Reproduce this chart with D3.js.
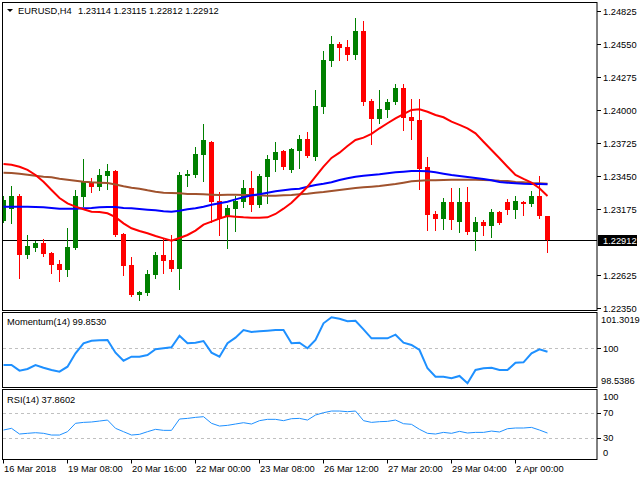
<!DOCTYPE html>
<html><head><meta charset="utf-8">
<script src="https://cdn.jsdelivr.net/npm/d3@7"></script>
<style>
body{margin:0;background:#fff}
svg{display:block}
text{font-family:"Liberation Sans",Arial,sans-serif;font-size:9.3px;fill:#000}
</style>
</head><body>
<svg id="c" width="640" height="480"></svg>
<script>
// ---------- DATA ----------
const symbol = "EURUSD,H4";
const opens = [1.23073,1.23175,1.23281,1.22792,1.22848,1.22889,1.22806,1.22714,1.22667,1.22850,
 1.23275,1.23398,1.23358,1.23448,1.23489,1.22964,1.22706,1.22458,1.22473,1.22623,
 1.22789,1.22748,1.22673,1.23448,1.23456,1.23623,1.23731,1.23239,1.23114,1.23173,
 1.23231,1.23348,1.23206,1.23439,1.23581,1.23656,1.23498,1.23656,1.23756,1.23606,
 1.24023,1.24406,1.24548,1.24523,1.24456,1.24656,1.24073,1.23923,1.23998,1.24064,
 1.24181,1.23939,1.23914,1.23523,1.23131,1.23089,1.23231,1.23064,1.23231,1.22981,
 1.23064,1.23031,1.23148,1.23231,1.23164,1.23231,1.23214,1.23281,1.23114];
const highs = [1.23281,1.23364,1.23298,1.22956,1.22908,1.22923,1.22814,1.22748,1.23014,1.23328,
 1.23589,1.23431,1.23506,1.23548,1.23498,1.22970,1.22773,1.22489,1.22664,1.22814,
 1.22923,1.22956,1.23481,1.23498,1.23689,1.23881,1.23739,1.23314,1.23206,1.23281,
 1.23414,1.23489,1.23464,1.23623,1.23731,1.23664,1.23681,1.23789,1.23814,1.24164,
 1.24489,1.24614,1.24564,1.24581,1.24764,1.24739,1.24089,1.24164,1.24089,1.24214,
 1.24214,1.24089,1.24089,1.23606,1.23156,1.23264,1.23348,1.23348,1.23356,1.23106,
 1.23081,1.23173,1.23156,1.23256,1.23281,1.23239,1.23323,1.23448,1.23115];
const lows = [1.23064,1.23058,1.22600,1.22767,1.22825,1.22781,1.22642,1.22575,1.22617,1.22843,
 1.23198,1.23314,1.23331,1.23342,1.22950,1.22625,1.22450,1.22417,1.22458,1.22598,
 1.22639,1.22656,1.22506,1.23364,1.23439,1.23406,1.23064,1.22956,1.22848,1.22989,
 1.23189,1.23156,1.23189,1.23223,1.23489,1.23506,1.23481,1.23514,1.23606,1.23581,
 1.23973,1.24364,1.24414,1.24414,1.24423,1.24039,1.23714,1.23889,1.23939,1.24048,
 1.23831,1.23756,1.23339,1.22998,1.22998,1.23006,1.23006,1.22981,1.22964,1.22831,
 1.22956,1.22939,1.23048,1.23131,1.23098,1.23123,1.23198,1.23098,1.22812];
const closes = [1.23248,1.23281,1.22792,1.22864,1.22889,1.22798,1.22708,1.22667,1.22856,1.23281,
 1.23398,1.23358,1.23456,1.23489,1.22958,1.22700,1.22458,1.22481,1.22631,1.22789,
 1.22739,1.22673,1.23456,1.23464,1.23631,1.23748,1.23231,1.23089,1.23181,1.23239,
 1.23348,1.23206,1.23448,1.23589,1.23648,1.23523,1.23673,1.23756,1.23614,1.24031,
 1.24414,1.24548,1.24514,1.24456,1.24656,1.24064,1.23923,1.24006,1.24064,1.24181,
 1.23931,1.23906,1.23506,1.23123,1.23089,1.23231,1.23081,1.23231,1.22981,1.23064,
 1.23031,1.23148,1.23056,1.23164,1.23239,1.23214,1.23281,1.23114,1.22912];
const maRed = [1.23548,1.23542,1.23525,1.23498,1.23456,1.23400,1.23331,1.23264,1.23220,1.23192,
 1.23170,1.23150,1.23148,1.23137,1.23104,1.23053,1.23012,1.22989,1.22970,1.22948,
 1.22928,1.22908,1.22931,1.22956,1.22992,1.23042,1.23067,1.23093,1.23114,1.23108,
 1.23103,1.23100,1.23100,1.23103,1.23131,1.23175,1.23225,1.23289,1.23358,1.23442,
 1.23525,1.23598,1.23642,1.23698,1.23748,1.23767,1.23798,1.23845,1.23887,1.23928,
 1.23964,1.23998,1.24003,1.23983,1.23956,1.23937,1.23900,1.23873,1.23845,1.23803,
 1.23733,1.23664,1.23595,1.23525,1.23456,1.23423,1.23392,1.23345,1.23281];
const maBlue = [1.23192,1.23192,1.23192,1.23192,1.23189,1.23187,1.23181,1.23175,1.23175,1.23175,
 1.23178,1.23181,1.23187,1.23189,1.23189,1.23181,1.23178,1.23173,1.23167,1.23162,
 1.23153,1.23150,1.23158,1.23170,1.23178,1.23192,1.23208,1.23220,1.23233,1.23253,
 1.23270,1.23287,1.23295,1.23308,1.23320,1.23328,1.23337,1.23342,1.23358,1.23373,
 1.23383,1.23395,1.23414,1.23428,1.23442,1.23450,1.23456,1.23462,1.23470,1.23478,
 1.23483,1.23489,1.23489,1.23487,1.23478,1.23467,1.23456,1.23448,1.23439,1.23431,
 1.23423,1.23412,1.23398,1.23392,1.23387,1.23383,1.23381,1.23381,1.23378];
const maBrown = [1.23475,1.23473,1.23467,1.23458,1.23450,1.23442,1.23437,1.23425,1.23417,1.23408,
 1.23400,1.23395,1.23392,1.23389,1.23376,1.23362,1.23350,1.23342,1.23328,1.23317,
 1.23308,1.23306,1.23303,1.23298,1.23298,1.23295,1.23292,1.23289,1.23292,1.23292,
 1.23289,1.23289,1.23287,1.23283,1.23283,1.23287,1.23289,1.23295,1.23300,1.23308,
 1.23314,1.23323,1.23331,1.23339,1.23348,1.23353,1.23358,1.23364,1.23373,1.23381,
 1.23392,1.23403,1.23408,1.23412,1.23412,1.23414,1.23417,1.23417,1.23417,1.23417,
 1.23414,1.23412,1.23408,1.23406,1.23398,1.23395,1.23389,1.23387,1.23383];
const momentum = [99.301,99.301,99.063,99.134,99.301,99.188,99.092,99.021,99.230,99.791,
 100.209,100.318,100.335,100.347,99.816,99.481,99.649,99.649,99.720,99.958,
 100.000,100.042,100.527,100.209,100.234,100.305,99.816,99.649,100.209,100.444,
 100.766,100.682,100.711,100.736,100.766,100.766,100.209,100.234,100.000,100.347,
 101.046,101.3019,101.238,101.130,101.155,100.795,100.418,100.418,100.418,100.569,
 100.234,100.138,99.929,99.163,98.812,98.812,98.745,98.841,98.5386,99.092,
 99.163,99.188,99.092,99.092,99.397,99.414,99.791,99.958,99.853];
const rsi = [42.6,45.3,36.3,37.4,38.4,37.4,34.7,34.7,40.0,53.2,
 54.7,55.3,56.8,58.4,45.3,40.0,34.7,35.8,40.0,43.7,
 42.1,42.1,60.0,61.0,62.6,63.7,53.2,48.9,50.0,52.1,
 54.2,52.1,57.4,59.5,59.5,57.4,60.5,61.0,58.4,66.3,
 70.0,72.6,72.6,71.6,72.6,57.4,54.7,55.8,56.3,58.4,
 52.6,51.6,43.7,37.4,36.3,38.9,37.4,40.5,37.9,38.9,
 38.9,41.0,39.5,44.7,45.8,45.8,46.8,42.6,37.86];
const priceTicks = [1.24825,1.24550,1.24275,1.24000,1.23725,1.23450,1.23175,1.22625,1.22350];
const momTicks = [101.3019,100,98.5386];
const momLevels = [100];
const rsiTicks = [100,70,30,0];
const rsiLevels = [70,30];
const xTickIdx = [0,8,16,24,32,40,48,56,64];
const xTickLabels = ["16 Mar 2018","19 Mar 08:00","20 Mar 16:00","22 Mar 00:00","23 Mar 08:00",
 "26 Mar 12:00","27 Mar 20:00","29 Mar 04:00","2 Apr 00:00"];
const lastPrice = 1.22912;

// ---------- LAYOUT ----------
const L = 2, R = 597;
const main = {top:2, bottom:311}, mom = {top:312.5, bottom:387.5}, rsiP = {top:389.5, bottom:459.5};
const svg = d3.select("#c");
const n = closes.length;
const x = d3.scaleLinear().domain([0, n - 1]).range([3.5, 3.5 + 8 * (n - 1)]);
const y = d3.scaleLinear().domain([1.22350, 1.24825]).range([307.7, 10.7]);
const ym = d3.scaleLinear().domain([98.5386, 101.3019]).range([383.2, 317.2]);
const yr = d3.scaleLinear().domain([0, 100]).range([457, 393.7]);

// frames
svg.append("rect").attr("x",2.5).attr("y",2.5).attr("width",R-2.5).attr("height",main.bottom-0.5-2.5)
  .attr("fill","none").attr("stroke","#000");
svg.append("rect").attr("x",2.5).attr("y",mom.top).attr("width",R-2.5).attr("height",mom.bottom-mom.top)
  .attr("fill","none").attr("stroke","#000");
svg.append("rect").attr("x",2.5).attr("y",rsiP.top).attr("width",R-2.5).attr("height",rsiP.bottom-rsiP.top)
  .attr("fill","none").attr("stroke","#000");

// clip for main
svg.append("clipPath").attr("id","cm").append("rect").attr("x",3).attr("y",3).attr("width",R-3).attr("height",main.bottom-4);
const gMain = svg.append("g").attr("clip-path","url(#cm)");

// last price line
gMain.append("line").attr("x1",L).attr("x2",R).attr("y1",Math.round(y(lastPrice))+0.5).attr("y2",Math.round(y(lastPrice))+0.5)
  .attr("stroke","#000").attr("stroke-width",1);

// candles
const idx = d3.range(n);
const cg = gMain.append("g");
cg.selectAll("line.w").data(idx).join("line").attr("class","w")
  .attr("x1",i=>x(i)).attr("x2",i=>x(i))
  .attr("y1",i=>Math.round(y(highs[i]))).attr("y2",i=>Math.round(y(lows[i]))+1)
  .attr("stroke",i=>closes[i]>=opens[i]?"#008000":"#ff0000").attr("stroke-width",1);
cg.selectAll("rect.b").data(idx).join("rect").attr("class","b")
  .attr("x",i=>x(i)-2.5).attr("width",5)
  .attr("y",i=>Math.round(y(Math.max(opens[i],closes[i]))))
  .attr("height",i=>Math.max(1,Math.round(y(Math.min(opens[i],closes[i])))-Math.round(y(Math.max(opens[i],closes[i])))))
  .attr("fill",i=>closes[i]>=opens[i]?"#008000":"#ff0000")
  .attr("shape-rendering","crispEdges");

// moving averages
const lineP = d3.line().x((d,i)=>x(i)).y(d=>y(d));
gMain.append("path").attr("d",lineP(maBrown)).attr("fill","none").attr("stroke","#a0522d").attr("stroke-width",2);
gMain.append("path").attr("d",lineP(maBlue)).attr("fill","none").attr("stroke","#0000ff").attr("stroke-width",2);
gMain.append("path").attr("d",lineP(maRed)).attr("fill","none").attr("stroke","#ff0000").attr("stroke-width",2);

// price axis
priceTicks.forEach(v=>{
  const yy = Math.round(y(v))+0.5;
  svg.append("line").attr("x1",R).attr("x2",R+4).attr("y1",yy).attr("y2",yy).attr("stroke","#000");
  svg.append("text").attr("x",603).attr("y",yy).attr("dy","0.35em").text(v.toFixed(5));
});
// last price box
{
  const yy = Math.round(y(lastPrice))+0.5;
  svg.append("rect").attr("x",598).attr("y",yy-5.5).attr("width",39).attr("height",11).attr("fill","#000");
  svg.append("text").attr("x",603).attr("y",yy).attr("dy","0.35em").style("fill","#fff").text(lastPrice.toFixed(5));
}

// title
svg.append("path").attr("d","M7,9L13,9L10,12Z").attr("fill","#000");
svg.append("text").attr("x",18).attr("y",14).text(symbol);
svg.append("text").attr("x",78).attr("y",14)
  .text([opens[n-1],highs[n-1],lows[n-1],closes[n-1]].map(v=>v.toFixed(5)).join(" "));

// momentum panel
momLevels.forEach(v=>{
  svg.append("line").attr("x1",3).attr("x2",R).attr("y1",Math.round(ym(v))+0.5).attr("y2",Math.round(ym(v))+0.5)
    .attr("stroke","#c0c0c0").attr("stroke-dasharray","3,3");
  svg.append("line").attr("x1",R).attr("x2",R+4).attr("y1",Math.round(ym(v))+0.5).attr("y2",Math.round(ym(v))+0.5).attr("stroke","#000");
});
svg.append("path").attr("d",d3.line().x((d,i)=>x(i)).y(d=>ym(d))(momentum))
  .attr("fill","none").attr("stroke","#1e90ff").attr("stroke-width",2);
momTicks.forEach(v=>{
  const yy = Math.min(Math.max(ym(v), mom.top+7.5), mom.bottom-6.5);
  svg.append("text").attr("x",v===100?603:601).attr("y",yy).attr("dy","0.35em").text(v===100?"100":v.toFixed(4));
});
svg.append("text").attr("x",7).attr("y",325).text("Momentum(14) " + momentum[n-1].toFixed(4).replace(/^99\.8530$/,"99.8530"));

// rsi panel
rsiLevels.forEach(v=>{
  svg.append("line").attr("x1",3).attr("x2",R).attr("y1",Math.round(yr(v))+0.5).attr("y2",Math.round(yr(v))+0.5)
    .attr("stroke","#c0c0c0").attr("stroke-dasharray","3,3");
  svg.append("line").attr("x1",R).attr("x2",R+4).attr("y1",Math.round(yr(v))+0.5).attr("y2",Math.round(yr(v))+0.5).attr("stroke","#000");
});
svg.append("path").attr("d",d3.line().x((d,i)=>x(i)).y(d=>yr(d))(rsi))
  .attr("fill","none").attr("stroke","#1e90ff").attr("stroke-width",1);
rsiTicks.forEach(v=>{
  const yy = Math.min(Math.max(yr(v), rsiP.top+7.5), rsiP.bottom-6.5);
  svg.append("text").attr("x",603).attr("y",yy).attr("dy","0.35em").text(String(v));
});
svg.append("text").attr("x",7).attr("y",403).text("RSI(14) 37.8602");

// x axis
xTickIdx.forEach((k,j)=>{
  svg.append("line").attr("x1",x(k)).attr("x2",x(k)).attr("y1",rsiP.bottom).attr("y2",rsiP.bottom+4).attr("stroke","#000");
  svg.append("text").attr("x",x(k)+0.5).attr("y",472).text(xTickLabels[j]);
});
</script>
</body></html>
